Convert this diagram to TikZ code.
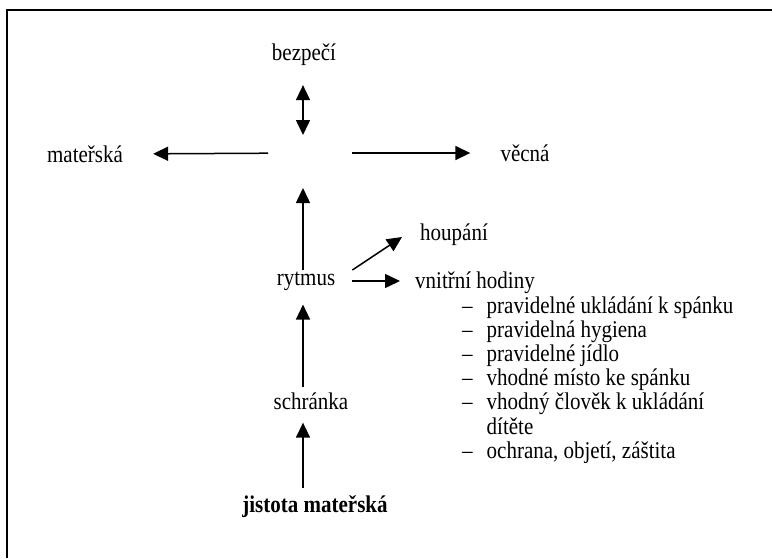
\documentclass[tikz,border=0pt]{standalone}
\usepackage{fontspec}
\setmainfont{Liberation Serif}[FakeStretch=0.875]
\usetikzlibrary{arrows.meta}

\begin{document}
\begin{tikzpicture}[x=1pt, y=-1pt,
  popis/.style={inner sep=0pt, font=\fontsize{24}{24.2}\selectfont},
  sipka/.style={-{Triangle[length=15pt,width=14pt]}, line width=1.5pt},
  dvojsipka/.style={{Triangle[length=15pt,width=14pt]}-{Triangle[length=15pt,width=14pt]}, line width=1.5pt}]

\useasboundingbox (0,0) rectangle (772,558);
\draw[line width=1.5pt] (772,10) -- (7,10) -- (7,558);

\coordinate (stred) at (303,153);

\node[popis] (bezpeci) at (304,55) {bezpečí};
\node[popis] (materska) at (85,154) {mateřská};
\node[popis] (vecna) at (525,153) {věcná};
\node[popis, anchor=west] (houpani) at (420,235) {houpání};
\node[popis] (rytmus) at (306,281) {rytmus};
\node[popis, anchor=west] (hodiny) at (415,283) {vnitřní hodiny};
\node[popis] (schranka) at (311,401) {schránka};
\node[popis, font=\fontsize{24}{24.2}\selectfont\bfseries] (jistota) at (315,507) {jistota mateřská};

\node[popis, anchor=north west] (seznam) at (462,296) {%
  \begin{tabular}{@{}l@{\hspace{14pt}}l@{}}
  – & pravidelné ukládání k spánku\\
  – & pravidelná hygiena\\
  – & pravidelné jídlo\\
  – & vhodné místo ke spánku\\
  – & vhodný člověk k ukládání\\
    & dítěte\\
  – & ochrana, objetí, záštita
  \end{tabular}};

% kriz kolem stredu
\draw[dvojsipka, shorten <=19pt, shorten >=18pt] (bezpeci.south -| stred) -- (stred);
\draw[sipka, shorten <=35pt, shorten >=30pt] (stred) -- (materska.east);
\draw[sipka, shorten <=49pt, shorten >=30pt] (stred) -- (vecna.west);
\draw[sipka, shorten <=1pt, shorten >=35pt] (rytmus.north -| stred) -- (stred);

% svisla osa
\draw[sipka, shorten <=5pt, shorten >=14pt] (schranka.north -| stred) -- (rytmus.south -| stred);
\draw[sipka, shorten <=8pt, shorten >=13pt] (jistota.north -| stred) -- (schranka.south -| stred);

% rytmus doprava
\draw[sipka] ([xshift=17pt,yshift=11pt]rytmus.east) -- ([xshift=-18pt,yshift=-2pt]houpani.west);
\draw[sipka, shorten <=17pt, shorten >=15pt] (rytmus.east) -- (rytmus.east -| hodiny.west);

\end{tikzpicture}
\end{document}
